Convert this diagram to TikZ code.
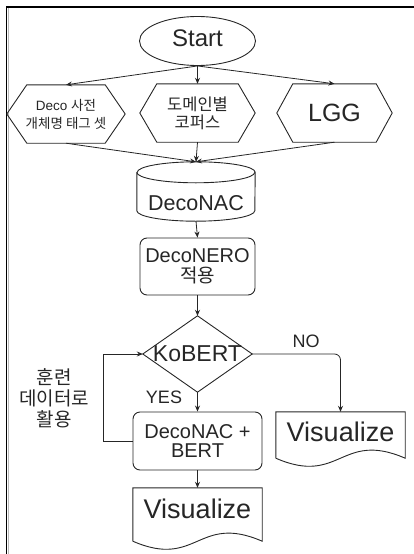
\documentclass[tikz,border=0pt]{standalone}
\usepackage{fontspec}
\setmainfont{Liberation Sans}
\newfontfamily\kr{Noto Sans CJK KR}
\usetikzlibrary{arrows.meta,calc,shapes.geometric}
\newcommand\fsz[2]{\fontsize{#1}{#2}\selectfont}
\begin{document}
\begin{tikzpicture}[x=1pt,y=-1pt,
  outline/.style={draw=black!85, line width=0.9pt},
  conn/.style={draw=black!85, line width=0.8pt, -{Stealth[length=6pt,width=5pt]}},
  holder/.style={draw=none, inner sep=0pt, align=center, text=black!85},
  rbox/.style={holder, outline, rounded corners=7pt},
  lbl/.style={inner sep=0pt, text=black!85}
]
\useasboundingbox (0,0) rectangle (414,554);
% frame
\draw[line width=1.6pt] (6.5,7) -- (414,7);
\draw[line width=1.6pt] (6.5,6.2) -- (6.5,554);
\draw[gray!55, line width=0.8pt] (8.6,8) -- (8.6,554);

% start
\node[ellipse, outline, minimum width=116pt, minimum height=49pt, inner sep=0pt,
      text=black!85, font=\fsz{24}{28}, text height=17pt, text depth=7pt] (start) at (197.5,41) {Start};

% hexagons
\node[holder, minimum width=118pt, minimum height=58pt, font=\fsz{13.5}{18}] (h1) at (66,114)
  {Deco {\kr 사전}\\{\kr 개체명 태그 셋}};
\node[holder, minimum width=115pt, minimum height=58pt, font=\fsz{16.5}{18}] (h2) at (197.5,113)
  {{\kr 도메인별}\\{\kr 코퍼스}};
\node[holder, minimum width=115pt, minimum height=58pt, font=\fsz{25}{28}] (h3) at (334.5,113) {LGG};
\foreach \h/\i in {h1/20,h2/17,h3/16}{
  \draw[outline] (\h.west) -- ($(\h.north west)+(\i,0)$) -- ($(\h.north east)+(-\i,0)$) -- (\h.east)
    -- ($(\h.south east)+(-\i,0)$) -- ($(\h.south west)+(\i,0)$) -- cycle;
}

% cylinder
\node[holder, minimum width=118pt, minimum height=59pt, font=\fsz{21.5}{24},
      text height=37pt, text depth=0pt] (cyl) at (196,191.5) {DecoNAC};
\draw[outline] ($(cyl.north west)+(0,10.5)$) -- ($(cyl.south west)+(0,-10.5)$)
   arc[start angle=180,end angle=0,x radius=59,y radius=10.5]
   -- ($(cyl.north east)+(0,10.5)$)
   arc[start angle=0,end angle=-180,x radius=59,y radius=10.5];
\draw[outline] ($(cyl.north west)+(0,10.5)$) arc[start angle=180,end angle=0,x radius=59,y radius=10.5];

% DecoNERO
\node[rbox, minimum width=115pt, minimum height=57pt, font=\fsz{20}{20}] (p1) at (197.5,266.5)
  {DecoNERO\\{\kr\fsz{19}{20}적용}};

% decision
\node[holder, minimum width=109pt, minimum height=76pt, font=\fsz{23}{26}] (d) at (197.5,354) {KoBERT};
\draw[outline] (d.north) -- (d.east) -- (d.south) -- (d.west) -- cycle;

% DecoNAC + BERT
\node[rbox, minimum width=129pt, minimum height=58pt, font=\fsz{20}{19}] (b) at (197.5,441)
  {DecoNAC +\\BERT};

% documents
\node[holder, minimum width=129pt, minimum height=46pt, font=\fsz{27}{30},
      text height=20pt, text depth=8pt] (v1) at (340.5,435) {Visualize};
\node[holder, minimum width=129pt, minimum height=53pt, font=\fsz{27}{30},
      text height=20pt, text depth=13pt] (v2) at (197.5,514.5) {Visualize};
\foreach \v in {v1,v2}{
  \draw[outline] (\v.south west) -- (\v.north west) -- (\v.north east) -- (\v.south east)
    .. controls ($(\v.south east)+(-64.5,-28)$) and ($(\v.south west)+(64.5,28)$) .. (\v.south west);
}

% connectors
\draw[conn] (start.south) -- (h1.north);
\draw[conn] (start.south) -- (h2.north);
\draw[conn] (start.south) -- (h3.north);
\draw[conn] (h1.south) -- (cyl.north);
\draw[conn] (h2.south) -- (cyl.north);
\draw[conn] (h3.south) -- (cyl.north);
\draw[conn] (cyl.south) -- (p1.north);
\draw[conn] (p1.south) -- (d.north);
\draw[conn] (d.south) -- node[lbl, pos=0.25, xshift=-33.5pt, font=\fsz{18}{20}] {YES} (b.north);
\draw[conn, rounded corners=6pt] (d.east) -| node[lbl, pos=0.305, yshift=13pt, font=\fsz{18}{20}] {NO} (v1.north);
\draw[conn] (b.west) -- ++(-29,0) |- (d.west);
\draw[conn] (b.south) -- (v2.north);

% loop label
\node[lbl, align=center, font={\kr\fsz{19}{21}}] (train) at (54,398) {훈련\\데이터로\\활용};
\end{tikzpicture}
\end{document}
